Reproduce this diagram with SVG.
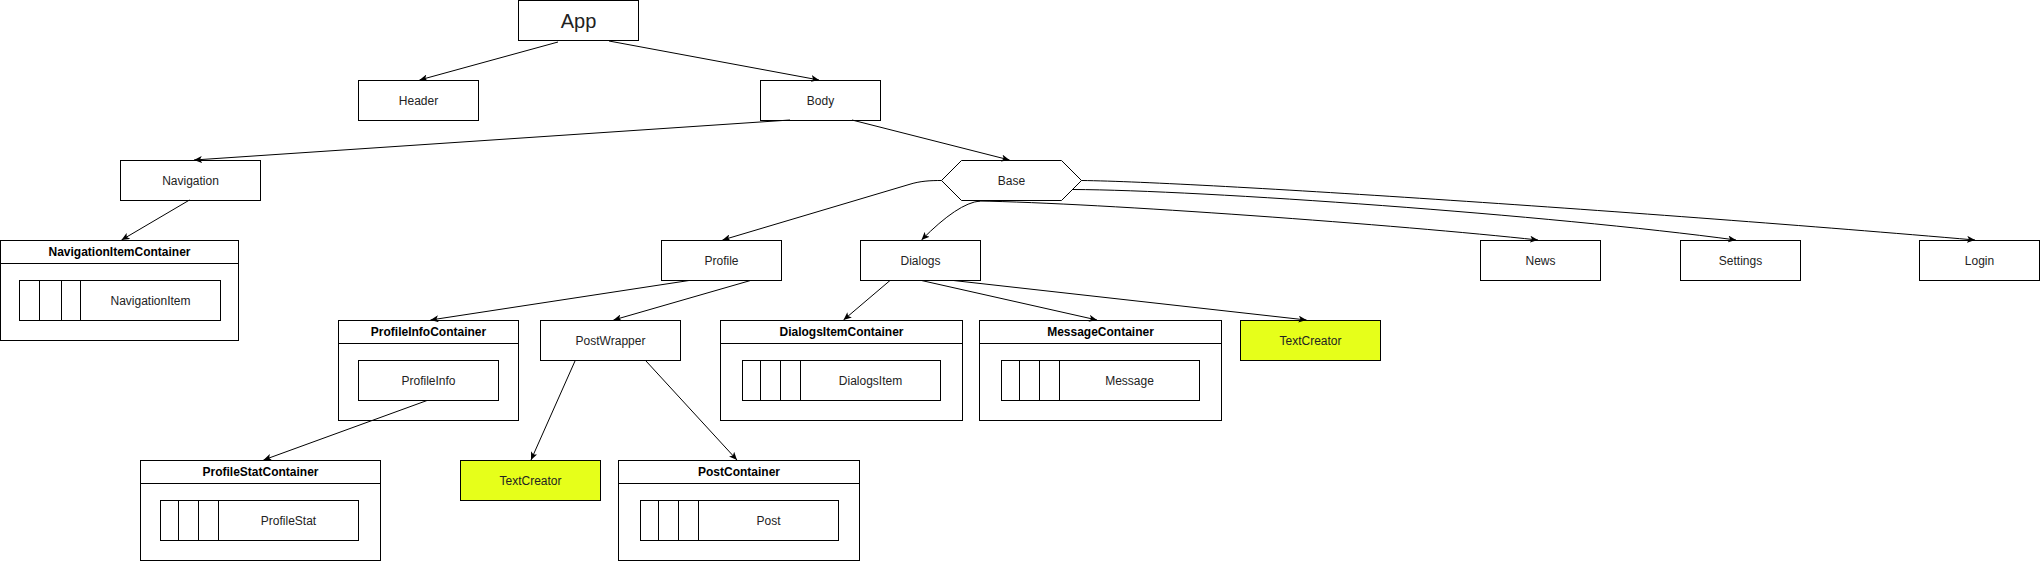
<svg xmlns="http://www.w3.org/2000/svg" width="2041" height="561" viewBox="0 0 2041 561">
<defs>
<marker id="arr" markerWidth="9" markerHeight="7" refX="8" refY="3.5" orient="auto" markerUnits="userSpaceOnUse">
<path d="M0,0 L8,3.5 L0,7 L2,3.5 Z" fill="#000"/>
</marker>
<style>
rect, polygon { fill: #fff; stroke: #000; stroke-width: 1; }
.hl { fill: #e6ff1a; }
line.div { stroke: #000; stroke-width: 1; }
text { font-family: "Liberation Sans", Arial, sans-serif; font-size: 12px; fill: #222; text-anchor: middle; }
.title { font-weight: bold; fill: #000; }
.big { font-size: 20px; }
#connectors path { fill: none; stroke: #000; stroke-width: 1; marker-end: url(#arr); }
</style>
</defs>
<rect x="0" y="0" width="2041" height="561" style="fill:#fff;stroke:none"/>

<g id="app"><rect x="518.5" y="0.5" width="120" height="40"/><text class="big" x="578.5" y="27.5">App</text></g>
<g id="header"><rect x="358.5" y="80.5" width="120" height="40"/><text x="418.5" y="104.5">Header</text></g>
<g id="body"><rect x="760.5" y="80.5" width="120" height="40"/><text x="820.5" y="104.5">Body</text></g>
<g id="navigation"><rect x="120.5" y="160.5" width="140" height="40"/><text x="190.5" y="184.5">Navigation</text></g>
<g id="base"><polygon points="961.5,160.5 1061.5,160.5 1081.5,180.5 1061.5,200.5 961.5,200.5 941.5,180.5"/><text x="1011.5" y="184.5">Base</text></g>
<g id="profile"><rect x="661.5" y="240.5" width="120" height="40"/><text x="721.5" y="264.5">Profile</text></g>
<g id="dialogs"><rect x="860.5" y="240.5" width="120" height="40"/><text x="920.5" y="264.5">Dialogs</text></g>
<g id="news"><rect x="1480.5" y="240.5" width="120" height="40"/><text x="1540.5" y="264.5">News</text></g>
<g id="settings"><rect x="1680.5" y="240.5" width="120" height="40"/><text x="1740.5" y="264.5">Settings</text></g>
<g id="login"><rect x="1919.5" y="240.5" width="120" height="40"/><text x="1979.5" y="264.5">Login</text></g>

<g id="navigationItemContainer">
<rect x="0.5" y="240.5" width="238" height="100"/>
<line class="div" x1="0.5" y1="263.5" x2="238.5" y2="263.5"/>
<text class="title" x="119.5" y="256">NavigationItemContainer</text>
<rect x="19.5" y="280.5" width="201" height="40"/>
<line class="div" x1="39.5" y1="280.5" x2="39.5" y2="320.5"/>
<line class="div" x1="61.5" y1="280.5" x2="61.5" y2="320.5"/>
<line class="div" x1="80.5" y1="280.5" x2="80.5" y2="320.5"/>
<text x="150.5" y="304.5">NavigationItem</text>
</g>

<g id="profileInfoContainer">
<rect x="338.5" y="320.5" width="180" height="100"/>
<line class="div" x1="338.5" y1="343.5" x2="518.5" y2="343.5"/>
<text class="title" x="428.5" y="336">ProfileInfoContainer</text>
<rect x="358.5" y="360.5" width="140" height="40"/>
<text x="428.5" y="384.5">ProfileInfo</text>
</g>

<g id="postWrapper"><rect x="540.5" y="320.5" width="140" height="40"/><text x="610.5" y="344.5">PostWrapper</text></g>

<g id="dialogsItemContainer">
<rect x="720.5" y="320.5" width="242" height="100"/>
<line class="div" x1="720.5" y1="343.5" x2="962.5" y2="343.5"/>
<text class="title" x="841.5" y="336">DialogsItemContainer</text>
<rect x="742.5" y="360.5" width="198" height="40"/>
<line class="div" x1="760.5" y1="360.5" x2="760.5" y2="400.5"/>
<line class="div" x1="780.5" y1="360.5" x2="780.5" y2="400.5"/>
<line class="div" x1="800.5" y1="360.5" x2="800.5" y2="400.5"/>
<text x="870.5" y="384.5">DialogsItem</text>
</g>

<g id="messageContainer">
<rect x="979.5" y="320.5" width="242" height="100"/>
<line class="div" x1="979.5" y1="343.5" x2="1221.5" y2="343.5"/>
<text class="title" x="1100.5" y="336">MessageContainer</text>
<rect x="1001.5" y="360.5" width="198" height="40"/>
<line class="div" x1="1019.5" y1="360.5" x2="1019.5" y2="400.5"/>
<line class="div" x1="1039.5" y1="360.5" x2="1039.5" y2="400.5"/>
<line class="div" x1="1059.5" y1="360.5" x2="1059.5" y2="400.5"/>
<text x="1129.5" y="384.5">Message</text>
</g>

<g id="textCreatorDialogs"><rect class="hl" x="1240.5" y="320.5" width="140" height="40"/><text x="1310.5" y="344.5">TextCreator</text></g>

<g id="profileStatContainer">
<rect x="140.5" y="460.5" width="240" height="100"/>
<line class="div" x1="140.5" y1="483.5" x2="380.5" y2="483.5"/>
<text class="title" x="260.5" y="476">ProfileStatContainer</text>
<rect x="160.5" y="500.5" width="198" height="40"/>
<line class="div" x1="178.5" y1="500.5" x2="178.5" y2="540.5"/>
<line class="div" x1="198.5" y1="500.5" x2="198.5" y2="540.5"/>
<line class="div" x1="218.5" y1="500.5" x2="218.5" y2="540.5"/>
<text x="288.5" y="524.5">ProfileStat</text>
</g>

<g id="textCreatorProfile"><rect class="hl" x="460.5" y="460.5" width="140" height="40"/><text x="530.5" y="484.5">TextCreator</text></g>

<g id="postContainer">
<rect x="618.5" y="460.5" width="241" height="100"/>
<line class="div" x1="618.5" y1="483.5" x2="859.5" y2="483.5"/>
<text class="title" x="739" y="476">PostContainer</text>
<rect x="640.5" y="500.5" width="198" height="40"/>
<line class="div" x1="658.5" y1="500.5" x2="658.5" y2="540.5"/>
<line class="div" x1="678.5" y1="500.5" x2="678.5" y2="540.5"/>
<line class="div" x1="698.5" y1="500.5" x2="698.5" y2="540.5"/>
<text x="768.5" y="524.5">Post</text>
</g>

<g id="connectors">
<path d="M558,42 L419.5,80"/>
<path d="M609,41 L819,80"/>
<path d="M790,120 L194,160"/>
<path d="M852,120 L1009.5,160"/>
<path d="M189.5,200 L121.5,240"/>
<path d="M941.5,180.5 C930,180.5 920,181 909,184.5 L722.5,240"/>
<path d="M980,201 Q958,203 921.5,240"/>
<path d="M978,201 C1100,203 1400,225 1538,240"/>
<path d="M1073,189.5 C1200,190 1550,215 1736,240"/>
<path d="M1081.5,180.5 C1200,182 1650,212 1975,240"/>
<path d="M689,280.5 L430.5,320"/>
<path d="M750.5,280.5 L613.5,320"/>
<path d="M427,400.5 L263.5,460"/>
<path d="M575,361 L531,460"/>
<path d="M646,361 L737,460"/>
<path d="M890,280.5 L843.5,320"/>
<path d="M921.5,280.5 L1097,320"/>
<path d="M953.5,280.5 L1306.5,320"/>
</g>
</svg>
